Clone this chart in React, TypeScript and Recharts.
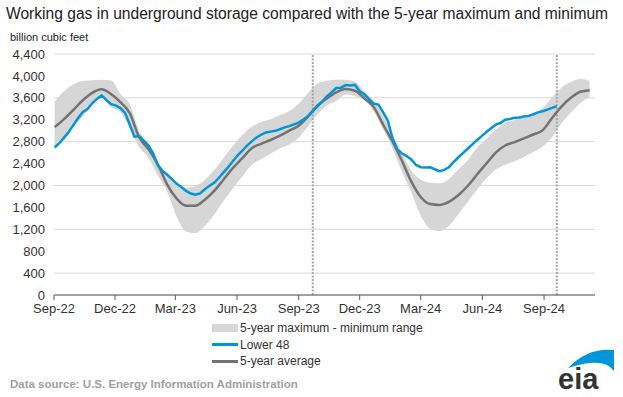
import React from 'react';
import { ComposedChart, Area, Line, XAxis, YAxis, CartesianGrid, ReferenceLine } from 'recharts';

// weeks ending on Fridays; day 0 = 1 Sep 2022, first report week = 2 Sep 2022
const firstWeekDay = 1;
const weekCount = 115;

// Lower 48 working gas, billion cubic feet, weekly (2 Sep 2022 - 20 Sep 2024)
const lower48 = [
  2694, 2771, 2874, 2977, 3106, 3231, 3342, 3394, 3501, 3580, 3644, 3564, 3483, 3462, 3412, 3325, 3112, 2891,
  2902, 2820, 2729, 2583, 2366, 2266, 2195, 2114, 2030, 1972, 1900, 1853, 1830,
  1855, 1930, 1994, 2048, 2141, 2240, 2336, 2446, 2550, 2634, 2729, 2805, 2877,
  2926, 2967, 2983, 2997, 3026, 3061, 3083, 3115, 3148, 3205, 3269, 3359, 3445,
  3529, 3626, 3700, 3779, 3785, 3833, 3826, 3836, 3719, 3664, 3577, 3490, 3476,
  3336, 3182, 2856, 2659, 2584, 2535, 2476, 2374, 2334, 2326, 2332, 2296, 2259,
  2283, 2333, 2425, 2510, 2590, 2670, 2750, 2830, 2900, 2975, 3045, 3110, 3140,
  3200, 3215, 3235, 3240, 3260, 3270, 3300, 3335, 3355, 3385, 3415, 3450,
];

// 5-year statistics, every second week (2 Sep 2022 - 8 Nov 2024)
const fiveYearAvg = [
  3065, 3210, 3380, 3555, 3690, 3755, 3670, 3520, 3320, 2880, 2660, 2380, 2010, 1760, 1630,
  1630, 1740, 1900, 2110, 2320, 2500, 2680, 2760, 2830, 2910, 3000, 3090, 3260, 3460,
  3590, 3700, 3760, 3730, 3590, 3430, 3110, 2800, 2450, 2070, 1790, 1660, 1645, 1700,
  1820, 1990, 2200, 2400, 2600, 2730, 2790, 2860, 2930, 3010, 3230, 3440, 3600, 3710, 3740,
];
const fiveYearMax = [
  3530, 3720, 3850, 3905, 3920, 3930, 3920, 3670, 3480, 3000, 2700, 2400, 2180, 2030, 1960,
  1990, 2100, 2280, 2500, 2730, 2920, 3070, 3160, 3210, 3280, 3360, 3490, 3690, 3860,
  3910, 3930, 3930, 3890, 3720, 3540, 3280, 2930, 2600, 2270, 2110, 2050, 2040, 2120,
  2290, 2460, 2690, 2850, 3020, 3140, 3200, 3260, 3310, 3410, 3610, 3790, 3890, 3945, 3910,
];
const fiveYearMin = [
  2650, 2840, 3070, 3260, 3470, 3600, 3430, 3340, 3050, 2700, 2500, 2180, 1880, 1430, 1160,
  1130, 1260, 1470, 1720, 1950, 2170, 2380, 2480, 2580, 2680, 2750, 2870, 3080, 3300,
  3460, 3540, 3660, 3630, 3550, 3350, 3020, 2680, 2250, 1870, 1450, 1210, 1165, 1260,
  1470, 1700, 1920, 2130, 2290, 2380, 2440, 2520, 2610, 2710, 2880, 3130, 3330, 3500, 3620,
];

const xTicks = [0, 91, 181, 273, 365, 456, 547, 639, 731];
const xTickLabels = ['Sep-22', 'Dec-22', 'Mar-23', 'Jun-23', 'Sep-23', 'Dec-23', 'Mar-24', 'Jun-24', 'Sep-24'];
const yTicks = [0, 400, 800, 1200, 1600, 2000, 2400, 2800, 3200, 3600, 4000, 4400];
// current report week and the same week a year earlier
const reportWeeks = [386, 750];

const BLUE = '#0096d7';
const AVG = '#737373';
const BAND = '#d6d6d6';
const FONT = '"Liberation Sans", Arial, sans-serif';

const data = Array.from({ length: weekCount }, (_, i) => {
  const row: any = { day: firstWeekDay + 7 * i };
  if (i < lower48.length) row.lower48 = lower48[i];
  if (i % 2 === 0) {
    const k = i / 2;
    row.avg = fiveYearAvg[k];
    row.range = [fiveYearMin[k], fiveYearMax[k]];
  }
  return row;
});

const legendItems = [
  { label: '5-year maximum - minimum range', kind: 'band' },
  { label: 'Lower 48', kind: 'blue' },
  { label: '5-year average', kind: 'avg' },
];

const Swatch = ({ kind }: { kind: string }) => {
  if (kind === 'band') {
    return <span style={{ display: 'inline-block', width: 26, height: 8, background: BAND, marginRight: 2 }} />;
  }
  return (
    <span
      style={{ display: 'inline-block', width: 26, height: 3, background: kind === 'blue' ? BLUE : AVG, marginRight: 2 }}
    />
  );
};

export default function App() {
  return (
    <div style={{ position: 'relative', width: 623, height: 397, background: '#fff', fontFamily: FONT, overflow: 'hidden' }}>
      <style>{'body{margin:0}'}</style>
      <div style={{ position: 'absolute', left: 6, top: 5, fontSize: 15.6, color: '#222', whiteSpace: 'nowrap' }}>
        Working gas in underground storage compared with the 5-year maximum and minimum
      </div>
      <div style={{ position: 'absolute', left: 10, top: 31, fontSize: 11, color: '#222', whiteSpace: 'nowrap' }}>
        billion cubic feet
      </div>

      <ComposedChart width={623} height={397} data={data} margin={{ top: 54, right: 28, left: 8, bottom: 72 }}>
        <CartesianGrid vertical={false} stroke="#d9d9d9" />
        <XAxis
          type="number"
          dataKey="day"
          domain={[0, 807]}
          ticks={xTicks}
          tickFormatter={(v: number) => xTickLabels[xTicks.indexOf(v)] ?? ''}
          height={30}
          tickSize={5}
          tickMargin={4}
          stroke="#595959"
          tick={{ fill: '#333', fontSize: 13 }}
        />
        <YAxis
          domain={[0, 4400]}
          ticks={yTicks}
          width={46}
          axisLine={false}
          tickLine={false}
          tickSize={6}
          tickMargin={3}
          tick={{ fill: '#333', fontSize: 13 }}
          tickFormatter={(v: number) => v.toLocaleString('en-US')}
        />
        <Area
          dataKey="range"
          type="monotone"
          stroke="none"
          fill={BAND}
          fillOpacity={1}
          connectNulls
          isAnimationActive={false}
        />
        {reportWeeks.map((d) => (
          <ReferenceLine key={d} x={d} stroke="#a6a6a6" strokeWidth={2} strokeDasharray="2 1.5" />
        ))}
        <Line
          dataKey="avg"
          type="monotone"
          stroke={AVG}
          strokeWidth={2.5}
          dot={false}
          connectNulls
          isAnimationActive={false}
        />
        <Line dataKey="lower48" type="linear" stroke={BLUE} strokeWidth={2.5} dot={false} isAnimationActive={false} />
      </ComposedChart>

      <div style={{ position: 'absolute', left: 212, top: 320, fontSize: 12, lineHeight: '16.5px', color: '#333' }}>
        {legendItems.map((it) => (
          <div key={it.label} style={{ display: 'flex', alignItems: 'center', whiteSpace: 'nowrap' }}>
            <Swatch kind={it.kind} />
            {it.label}
          </div>
        ))}
      </div>

      <div
        style={{
          position: 'absolute',
          left: 10,
          top: 378,
          fontSize: 11.5,
          fontWeight: 'bold',
          color: '#a0a0a0',
          whiteSpace: 'nowrap',
        }}
      >
        Data source:  U.S. Energy Information Administration
      </div>

      <svg style={{ position: 'absolute', left: 552, top: 344 }} width={66} height={50}>
        <path d="M 16 24 Q 36 3 62 6 L 62 27 Q 52 12 16 24 Z" fill={BLUE} />
        <text x={6} y={45} fontSize={29} fontWeight="bold" fill="#333" fontFamily={FONT}>
          eia
        </text>
      </svg>
    </div>
  );
}
